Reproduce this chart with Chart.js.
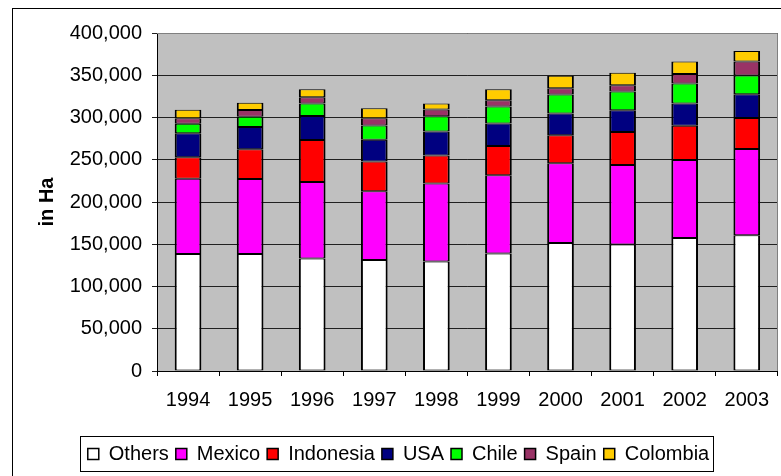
<!DOCTYPE html>
<html>
<head>
<meta charset="utf-8">
<script src="https://cdn.jsdelivr.net/npm/chart.js@4/dist/chart.umd.min.js"></script>
<style>
  body { margin: 0; background: #fff; }
  canvas { display: block; }
</style>
</head>
<body>
<canvas id="areaChart" width="781" height="476"></canvas>
<script>
const years = ["1994", "1995", "1996", "1997", "1998", "1999", "2000", "2001", "2002", "2003"];
const others = [138500, 138500, 133000, 131400, 129500, 139000, 151400, 149800, 157500, 160600];
const mexico = [88900, 88800, 90800, 81300, 92400, 92700, 94600, 93900, 92300, 102200];
const indonesia = [25700, 35100, 49700, 35100, 33200, 34700, 33100, 39000, 40300, 36700];
const usa = [28400, 26400, 28400, 26000, 28400, 26500, 25600, 26000, 26400, 28000];
const chile = [11000, 12200, 14600, 16600, 18100, 20100, 22500, 22100, 23700, 22100];
const spain = [6700, 7900, 7500, 8700, 7900, 7500, 7500, 7500, 11400, 16600];
const colombia = [9900, 8700, 9500, 11800, 7100, 13000, 14600, 14600, 14600, 12600];

const FONT = "'Liberation Sans', Arial, sans-serif";

function series(label, data, color) {
  return {
    label,
    data,
    backgroundColor: color,
    borderColor: "#000",
    borderWidth: { left: 2, right: 2, top: 1, bottom: 1 },
    borderSkipped: false,
    categoryPercentage: 0.86,
    barPercentage: 0.5,
  };
}

// grey plot background, outer frame, plot edge and legend box
const framePlugin = {
  id: "frame",
  beforeDraw(chart) {
    const { ctx, chartArea: a } = chart;
    ctx.save();
    ctx.fillStyle = "#c0c0c0";
    ctx.fillRect(a.left, a.top, a.right - a.left, a.bottom - a.top);
    ctx.strokeStyle = "#000";
    ctx.lineWidth = 1;
    ctx.strokeRect(12.5, 8.5, 900, 600);
    ctx.restore();
  },
  beforeDatasetsDraw(chart) {
    const { ctx, chartArea: a } = chart;
    ctx.save();
    ctx.strokeStyle = "#808080";
    ctx.lineWidth = 1;
    ctx.beginPath();
    ctx.moveTo(a.left, Math.round(a.top) + 0.5);
    ctx.lineTo(Math.round(a.right) - 0.5, Math.round(a.top) + 0.5);
    ctx.lineTo(Math.round(a.right) - 0.5, a.bottom);
    ctx.stroke();
    ctx.restore();
  },
  afterDraw(chart) {
    const boxes = chart.legend.legendHitBoxes;
    if (!boxes || !boxes.length) return;
    const first = boxes[0];
    const last = boxes[boxes.length - 1];
    const mid = first.top + first.height / 2;
    const { ctx } = chart;
    ctx.save();
    ctx.strokeStyle = "#000";
    ctx.lineWidth = 1;
    const left = Math.round(first.left - 8) + 0.5;
    const right = Math.round(last.left + last.width + 4) + 0.5;
    const top = Math.round(mid - 18) + 0.5;
    ctx.strokeRect(left, top, right - left, 35);
    ctx.restore();
  },
};

new Chart(document.getElementById("areaChart"), {
  type: "bar",
  data: {
    labels: years,
    datasets: [
      series("Others", others, "#ffffff"),
      series("Mexico", mexico, "#ff00ff"),
      series("Indonesia", indonesia, "#ff0000"),
      series("USA", usa, "#000080"),
      series("Chile", chile, "#00ff00"),
      series("Spain", spain, "#993366"),
      series("Colombia", colombia, "#ffcc00"),
    ],
  },
  options: {
    responsive: false,
    animation: false,
    layout: { padding: { top: 33, left: 16, right: 0, bottom: 2 } },
    plugins: {
      tooltip: { enabled: false },
      legend: {
        position: "bottom",
        labels: {
          color: "#000",
          font: { family: FONT, size: 20 },
          boxWidth: 11,
          boxHeight: 11,
          padding: 7,
        },
      },
    },
    scales: {
      x: {
        stacked: true,
        afterFit(scale) { scale.height = 66; },
        grid: { offset: true, drawOnChartArea: false, tickLength: 5, color: "#000" },
        border: { color: "#000", width: 1 },
        ticks: { color: "#000", font: { family: FONT, size: 20 }, padding: 12, maxRotation: 0 },
      },
      y: {
        stacked: true,
        min: 0,
        max: 400000,
        afterFit(scale) { scale.width = 141; },
        grid: { color: "#202020", tickLength: 5 },
        border: { color: "#000", width: 1 },
        ticks: {
          stepSize: 50000,
          color: "#000",
          padding: 10,
          font: { family: FONT, size: 20 },
          callback: (v) => v.toLocaleString("en-US"),
        },
        title: {
          display: true,
          text: "in Ha",
          color: "#000",
          font: { family: FONT, size: 20, weight: "bold" },
          padding: { top: 19, bottom: 0 },
        },
      },
    },
  },
  plugins: [framePlugin],
});
</script>
</body>
</html>
